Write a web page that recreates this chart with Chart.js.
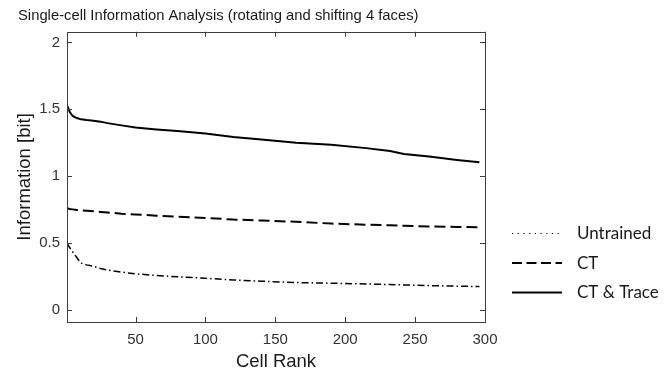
<!DOCTYPE html>
<html>
<head>
<meta charset="utf-8">
<script src="https://cdn.jsdelivr.net/npm/chart.js@4.4.1/dist/chart.umd.min.js"></script>
<style>
  html, body { margin: 0; padding: 0; background: #ffffff; }
  #wrap { width: 672px; height: 376px; }
</style>
</head>
<body>
<div id="wrap"><canvas id="c" width="672" height="376"></canvas></div>
<script>
// ---- data ----
const cellRank = [1, 3, 5, 8, 11, 15, 20, 25, 30, 40, 50, 65, 80, 100, 120, 140, 165, 190, 215, 232, 242, 260, 280, 296];
const untrained = [0.50, 0.465, 0.435, 0.392, 0.35, 0.337, 0.327, 0.31, 0.298, 0.283, 0.27, 0.258, 0.248, 0.237, 0.224, 0.215, 0.205, 0.20, 0.194, 0.19, 0.187, 0.182, 0.178, 0.175];
const ct = [0.76, 0.755, 0.752, 0.748, 0.745, 0.742, 0.738, 0.733, 0.729, 0.72, 0.714, 0.705, 0.698, 0.688, 0.676, 0.669, 0.659, 0.646, 0.637, 0.633, 0.63, 0.624, 0.621, 0.618];
const ctTrace = [1.53, 1.48, 1.45, 1.435, 1.425, 1.42, 1.415, 1.408, 1.397, 1.38, 1.365, 1.35, 1.338, 1.32, 1.293, 1.275, 1.25, 1.235, 1.21, 1.188, 1.166, 1.148, 1.122, 1.104];
const seriesNames = ['Untrained', 'CT', 'CT & Trace'];
const xTicks = [50, 100, 150, 200, 250, 300];
const yTicks = [0, 0.5, 1, 1.5, 2];
const titleText = 'Single-cell Information Analysis (rotating and shifting 4 faces)';
const xTitle = 'Cell Rank';
const yTitle = 'Information [bit]';

const AXIS = '#3c3c3c';
const TEXT = '#333333';
const FONT = "'Liberation Sans', Arial, Helvetica, sans-serif";

function pts(ys) { return cellRank.map((x, i) => ({ x: x, y: ys[i] })); }

// box + inward ticks, MATLAB style
const boxPlugin = {
  id: 'boxPlugin',
  afterDatasetsDraw(chart) {
    const { ctx, chartArea: a, scales } = chart;
    const L = 5;
    ctx.save();
    ctx.strokeStyle = AXIS;
    ctx.lineWidth = 1;
    ctx.setLineDash([]);
    ctx.strokeRect(Math.round(a.left) + 0.5, Math.round(a.top) + 0.5,
                   Math.round(a.right - a.left), Math.round(a.bottom - a.top));
    ctx.beginPath();
    xTicks.forEach(v => {
      const px = Math.round(scales.x.getPixelForValue(v)) + 0.5;
      ctx.moveTo(px, a.bottom); ctx.lineTo(px, a.bottom - L);
      ctx.moveTo(px, a.top); ctx.lineTo(px, a.top + L);
    });
    yTicks.forEach(v => {
      const py = Math.round(scales.y.getPixelForValue(v)) + 0.5;
      ctx.moveTo(a.left, py); ctx.lineTo(a.left + L, py);
      ctx.moveTo(a.right, py); ctx.lineTo(a.right - L, py);
    });
    ctx.stroke();
    ctx.restore();
  }
};

// legend at right, drawn from the datasets
const legendPlugin = {
  id: 'sideLegend',
  afterDraw(chart, args, opts) {
    const { ctx } = chart;
    ctx.save();
    chart.data.datasets.forEach((ds, i) => {
      const y = opts.y0 + i * opts.step;
      ctx.beginPath();
      ctx.strokeStyle = ds.borderColor;
      ctx.lineWidth = ds.legendWidth;
      ctx.setLineDash(ds.legendDash);
      ctx.moveTo(opts.x0, y + 0.5);
      ctx.lineTo(opts.x0 + opts.len, y + 0.5);
      ctx.stroke();
      ctx.setLineDash([]);
      ctx.fillStyle = '#1a1a1a';
      ctx.font = opts.font;
      ctx.textBaseline = 'middle';
      ctx.textAlign = 'left';
      ctx.fillText(ds.label, opts.x0 + opts.len + opts.gap, y + 1);
    });
    ctx.restore();
  }
};

new Chart(document.getElementById('c'), {
  type: 'line',
  data: {
    datasets: [
      { label: seriesNames[0], data: pts(untrained), borderColor: '#000000', borderWidth: 1.5,
        borderDash: [7, 3, 1.5, 3], legendDash: [1.2, 4.5], legendWidth: 1.2 },
      { label: seriesNames[1], data: pts(ct), borderColor: '#000000', borderWidth: 2,
        borderDash: [11, 5], legendDash: [10, 4.5], legendWidth: 2 },
      { label: seriesNames[2], data: pts(ctTrace), borderColor: '#000000', borderWidth: 2,
        borderDash: [], legendDash: [], legendWidth: 2 }
    ]
  },
  options: {
    responsive: false,
    animation: false,
    devicePixelRatio: 1,
    layout: { padding: { left: 18, right: 187, top: 0, bottom: 0 } },
    elements: { point: { radius: 0 }, line: { tension: 0, borderCapStyle: 'butt' } },
    plugins: {
      legend: { display: false },
      tooltip: { enabled: false },
      title: {
        display: true, text: titleText, align: 'start', color: '#1a1a1a',
        font: { family: FONT, size: 14.8, weight: 'normal', lineHeight: 1.2 },
        padding: { top: 7, bottom: 7 }
      },
      sideLegend: { x0: 512, len: 50, gap: 15, y0: 233, step: 29.5, font: "17px Lato, 'Open Sans', sans-serif" }
    },
    scales: {
      x: {
        type: 'linear', min: 1, max: 300,
        afterBuildTicks: s => { s.ticks = xTicks.map(v => ({ value: v })); },
        afterFit: s => { s.height = 54; },
        grid: { display: false, drawTicks: false },
        border: { display: false },
        ticks: { color: TEXT, padding: 9, maxRotation: 0, font: { family: FONT, size: 15 }, callback: v => String(v) },
        title: { display: true, text: xTitle, color: '#1a1a1a', font: { family: FONT, size: 18.5 }, padding: { top: 0, bottom: 3 } }
      },
      y: {
        type: 'linear', min: -0.09, max: 2.08,
        afterBuildTicks: s => { s.ticks = yTicks.map(v => ({ value: v })); },
        afterFit: s => { s.width = 49; },
        grid: { display: false, drawTicks: false },
        border: { display: false },
        ticks: { color: TEXT, padding: 7, font: { family: FONT, size: 15 }, callback: v => String(v) },
        title: { display: true, text: yTitle, color: '#1a1a1a', font: { family: FONT, size: 18.5 }, padding: { top: -4, bottom: 0 } }
      }
    }
  },
  plugins: [boxPlugin, legendPlugin]
});
</script>
</body>
</html>
